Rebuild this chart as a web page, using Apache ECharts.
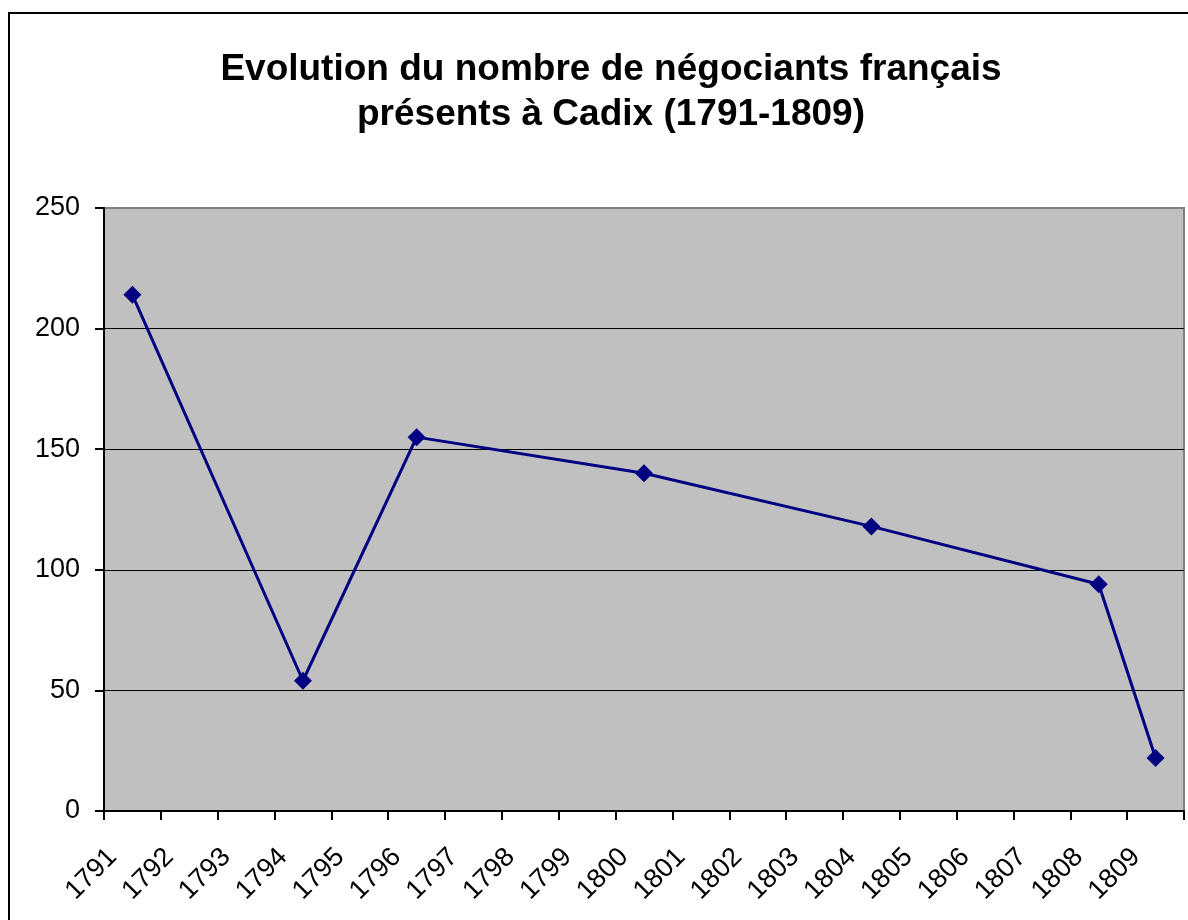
<!DOCTYPE html>
<html>
<head>
<meta charset="utf-8">
<script src="https://cdn.jsdelivr.net/npm/echarts@6/dist/echarts.min.js"></script>
<style>
html,body{margin:0;padding:0;background:#fff;}
#main{width:1188px;height:920px;}
</style>
</head>
<body>
<div id="main"></div>
<script>
var years = ['1791','1792','1793','1794','1795','1796','1797','1798','1799','1800',
    '1801','1802','1803','1804','1805','1806','1807','1808','1809'];
// nombre de negociants, null = pas de donnee
var negociants = [214, null, null, 54, null, 155, null, null, null, 140,
    null, null, null, 118, null, null, null, 94, 22];
var yTicks = [0, 50, 100, 150, 200, 250];

var myChart = echarts.init(document.getElementById('main'));
var font = '"Liberation Sans", Arial, sans-serif';

myChart.setOption({
    animation: false,
    backgroundColor: '#fff',
    title: {
        text: 'Evolution du nombre de négociants français\nprésents à Cadix (1791-1809)',
        left: 606,
        top: 42,
        textAlign: 'center',
        textStyle: {
            fontFamily: font,
            fontWeight: 'bold',
            fontSize: 37,
            lineHeight: 45,
            color: '#000'
        }
    },
    graphic: [{
        type: 'rect',
        shape: {x: 9, y: 13, width: 1300, height: 1000},
        style: {fill: 'none', stroke: '#000', lineWidth: 2},
        silent: true
    }],
    grid: {
        left: 104,
        top: 208,
        right: 4,
        bottom: 109,
        show: true,
        backgroundColor: '#c0c0c0',
        borderColor: '#808080',
        borderWidth: 2
    },
    xAxis: {
        type: 'category',
        data: years,
        boundaryGap: true,
        axisLine: {lineStyle: {color: '#000', width: 2}},
        axisTick: {show: true, length: 9, inside: false, lineStyle: {color: '#000', width: 2}},
        axisLabel: {
            interval: 0,
            rotate: 45,
            margin: 22,
            padding: [0, 28, 0, 0],
            fontFamily: font,
            fontSize: 27,
            color: '#000'
        },
        splitLine: {show: false}
    },
    yAxis: {
        type: 'value',
        min: yTicks[0],
        max: yTicks[yTicks.length - 1],
        interval: 50,
        axisLine: {show: true, lineStyle: {color: '#000', width: 2}},
        axisTick: {show: true, length: 9, lineStyle: {color: '#000', width: 2}},
        axisLabel: {
            margin: 24,
            fontFamily: font,
            fontSize: 27,
            color: '#000'
        },
        splitLine: {
            show: true,
            lineStyle: {color: ['#000', '#000', '#000', '#000', '#000', '#808080'], width: 1}
        }
    },
    series: [{
        type: 'line',
        data: negociants,
        connectNulls: true,
        symbol: 'diamond',
        symbolSize: 18,
        lineStyle: {color: '#000080', width: 3},
        itemStyle: {color: '#000080'}
    }]
});
</script>
</body>
</html>
